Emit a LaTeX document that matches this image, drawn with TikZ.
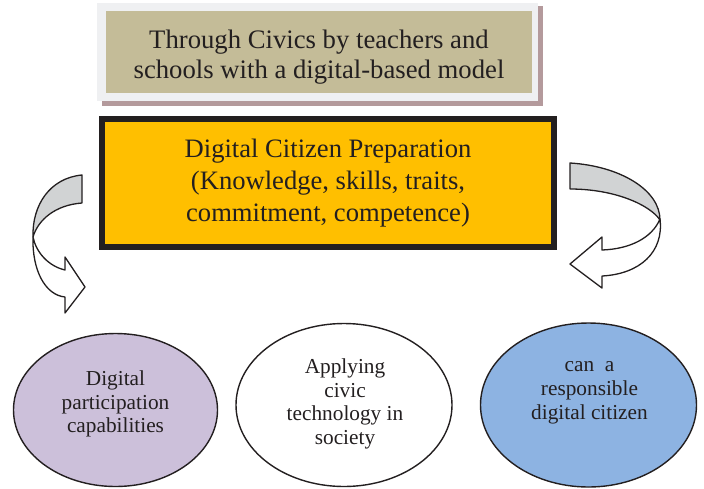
\documentclass[tikz,border=0pt]{standalone}
\usepackage{fontspec}
\setmainfont{Liberation Serif}
\usetikzlibrary{shapes.geometric}
\usepackage{xcolor}

\definecolor{khaki}{HTML}{C4BC98}
\definecolor{framegray}{HTML}{EFF0F2}
\definecolor{shadowrose}{HTML}{B49A9C}
\definecolor{amber}{HTML}{FFBF00}
\definecolor{lilac}{HTML}{CCC0DA}
\definecolor{skyblue}{HTML}{8DB3E2}
\definecolor{bandgray}{HTML}{D1D3D4}
\definecolor{ink}{HTML}{231F20}

\tikzset{
    bubble/.style={ellipse, draw=ink, line width=1.4, inner sep=0},
    txt/.style={align=center, text=ink, font=\fontsize{21.3}{23.8}\selectfont},
    ribbon/.style={draw=ink, line width=1.3, line join=round}
}

\begin{document}
\begin{tikzpicture}[x=1pt, y=-1pt]
    \useasboundingbox (0,0) rectangle (704,488);

    % Nodes
    \node (shadow) at (322,56) [rectangle, fill=shadowrose, minimum width=441, minimum height=100] {};
    \node (frame) at (317.5,52) [rectangle, fill=framegray, minimum width=441, minimum height=98] {};
    \node (model) at (319,52) [rectangle, fill=khaki, minimum width=426, minimum height=82,
        label={[align=center, text=ink, font=\fontsize{26.7}{29.5}\selectfont, yshift=-5]center:Through Civics by teachers and\\schools with a digital-based model}] {};
    \node (prep) at (328,183) [rectangle, draw=ink, line width=6, fill=amber, minimum width=452, minimum height=128, align=center, text=ink, font=\fontsize{26.6}{32}\selectfont] {Digital Citizen Preparation\\(Knowledge, skills, traits,\\commitment, competence)};

    \node (capab) at (115.5,410) [bubble, fill=lilac, minimum width=204, minimum height=153,
        label={[txt, yshift=6]center:Digital\\participation\\capabilities}] {};
    \node (civic) at (344,405) [bubble, fill=white, minimum width=216, minimum height=163,
        label={[txt, xshift=1, yshift=1]center:Applying\\civic\\technology in\\society}] {};
    \node (citizen) at (588.5,405) [bubble, fill=skyblue, minimum width=216, minimum height=164,
        label={[txt, xshift=1, yshift=12]center:can~ a\\responsible\\digital citizen}] {};

    % Arrows
    % left ribbon: grey back, white front with head
    \draw[ribbon, fill=bandgray] (82,175) .. controls (50,178) and (32,205) .. (33,237)
        .. controls (38,220) and (55,205) .. (82,203) -- cycle;
    \draw[ribbon, fill=white] (33,237) .. controls (32,270) and (45,295) .. (65,297)
        -- (65,313) -- (85,287) -- (65,257) -- (65,270)
        .. controls (48,266) and (36,252) .. cycle;
    % right ribbon
    \draw[ribbon, fill=bandgray] (570,163) .. controls (620,166) and (660,190) .. (660,220)
        .. controls (650,205) and (615,189) .. (570,189) -- cycle;
    \draw[ribbon, fill=white] (660,219) .. controls (664,252) and (640,274) .. (602,276)
        -- (602,288) -- (570,264) -- (602,237) -- (602,250)
        .. controls (630,249) and (652,238) .. cycle;
\end{tikzpicture}
\end{document}
